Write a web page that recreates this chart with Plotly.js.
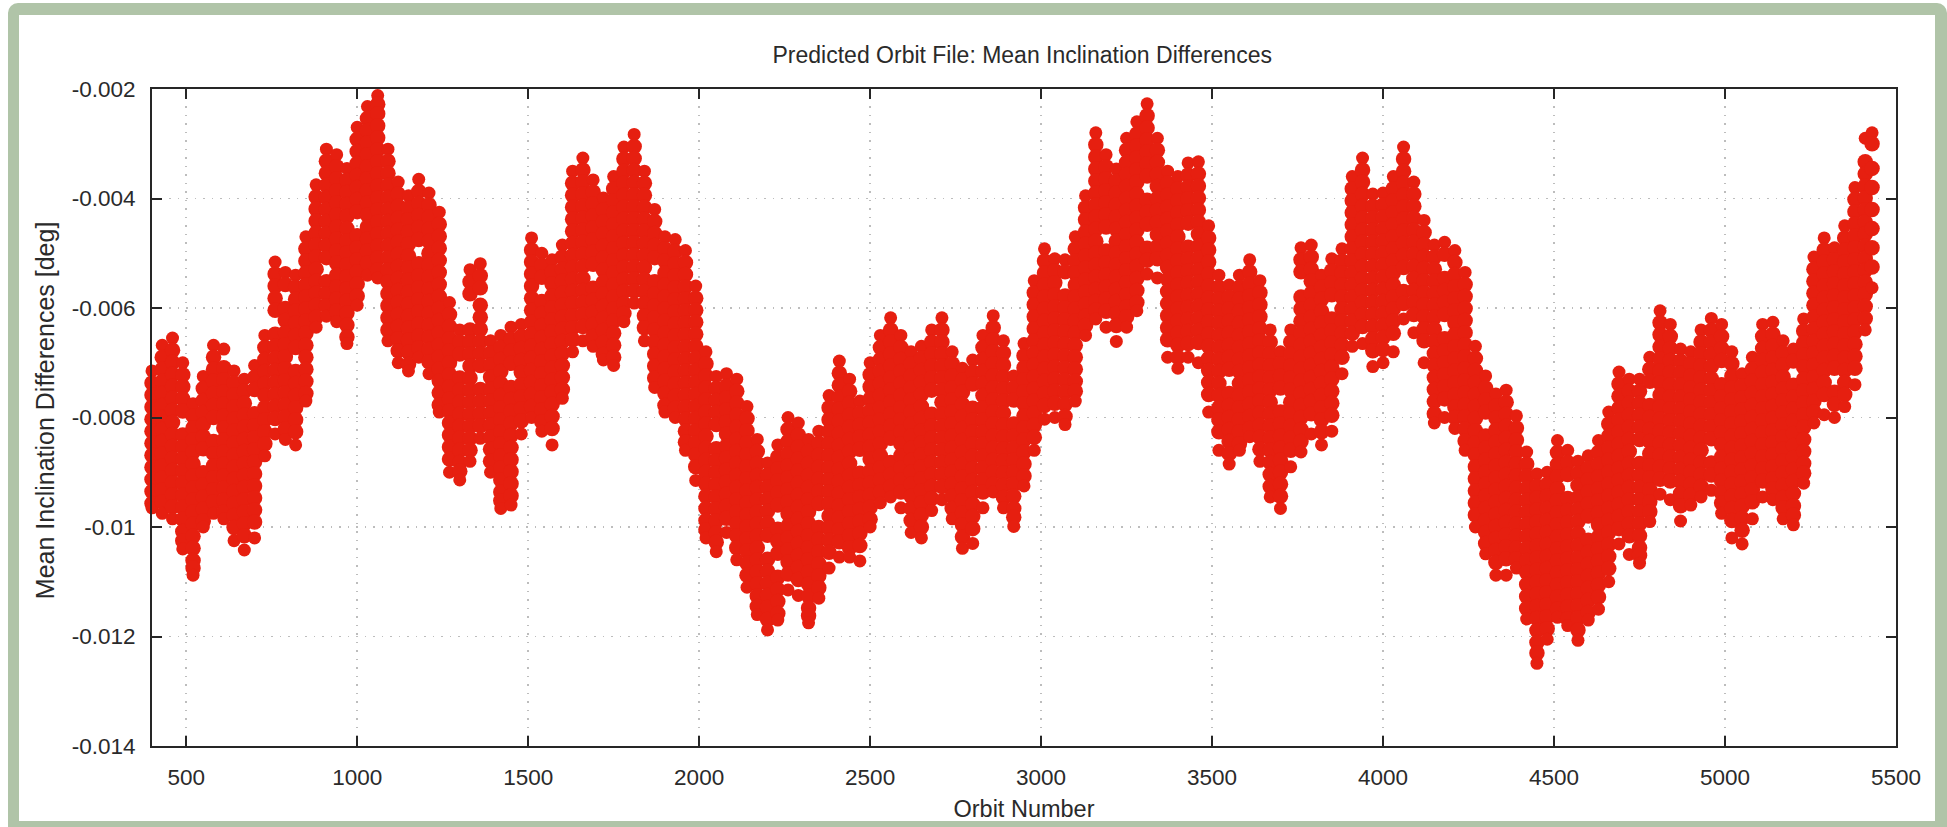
<!DOCTYPE html>
<html><head><meta charset="utf-8">
<script src="https://cdn.plot.ly/plotly-3.0.1.min.js"></script>
<style>
html,body{margin:0;padding:0;background:#fff;width:1947px;height:827px;overflow:hidden}
#frame{position:absolute;left:8px;top:3px;border-style:solid;border-color:#b0c4a8;border-width:12px 12px 6px 11px;border-radius:10px 10px 0 0;width:1916px;height:806px}
#chart{position:absolute;left:0;top:0;width:1947px;height:827px}
</style></head><body>
<div id="frame"></div>
<div id="chart"></div>
<script>
// Each row: orbit number, then inclination differences at that orbit (unit: -1e-5 deg).
const orbits0400 = [
[400,715,737,759,781,803,825,847,869,891,913,935,957,965],
[430,668,690,712,734,756,778,800,822,844,866,888,910,932,954,975],
[460,655,677,699,721,743,765,787,809,831,853,875,897,919,941,963,985],
[490,700,722,744,766,788,832,854,876,898,920,942,964,986,1008,1025,1040],
[520,775,797,819,841,863,885,907,929,951,973,995,1017,1039,1061,1075,1088],
[550,725,747,769,791,813,835,857,901,923,945,967,989,1000],
[580,668,690,712,734,756,778,800,844,866,888,910,932,954,975],
[610,675,709,731,753,775,797,819,841,863,885,907,929,951,973,985],
[640,715,737,759,781,803,825,847,869,891,913,935,957,979,1001,1025],
[670,730,752,774,796,818,840,862,884,906,928,950,972,994,1016,1042],
[700,705,727,749,793,815,837,859,881,903,925,947,969,991,1020],
[730,650,672,694,716,738,760,782,804,826,848,870],
[760,516,538,560,582,604,648,670,692,714,736,758,780,802,830],
[790,535,557,601,623,645,667,689,711,733,755,777,799,821,840],
[820,540,562,584,606,628,650,672,716,738,760,782,804,826,850],
[850,470,492,514,536,558,580,602,624,646,668,690,712,734,756,770],
[880,375,397,419,441,463,485,507,529,551,573,595,617,635],
[910,310,332,354,376,398,420,442,464,486,508,552,574,596,615],
[940,320,342,364,386,408,430,452,474,496,518,540,562,584,606,625],
[970,345,367,389,411,433,455,477,499,521,543,565,587,609,631,653,665],
[1000,270,292,314,336,358,380,402,424,468,490,512,534,556,578,595],
[1030,232,254,276,298,320,342,364,386,408,430,452,474,496,518,540],
[1060,212,228,245,267,289,311,333,355,377,399,421,443,465,487,509,531,545],
[1090,310,332,354,376,398,420,442,464,486,508,530,552,574,596,618,640,660],
[1120,370,392,414,436,458,480,502,524,546,568,590,612,634,656,678,700],
[1150,395,417,439,461,483,505,527,549,571,593,615,637,659,681,703,715],
[1180,365,387,409,431,453,475,519,541,563,585,607,629,651,673,690],
[1210,390,412,434,456,478,500,522,544,566,588,610,632,654,676,698,720],
[1240,425,447,469,491,513,535,557,579,601,623,645,667,689,711,733,755,777,790],
[1270,590,612,634,656,678,700,722,744,766,788,810,832,854,876,900],
[1300,640,662,684,728,750,772,794,816,838,860,882,898,914],
[1330,530,552,574,640,662,684,706,728,750,772,794,816,838,860,880],
[1360,519,541,563,595,617,639,661,683,705,749,771,793,815,838],
[1390,660,682,704,726,748,770,792,814,836,858,880,900]
];
const orbits1420 = [
[1420,650,672,694,716,738,760,782,804,826,848,870,892,914,936,952,966],
[1450,635,657,679,701,745,767,789,811,833,855,877,899,921,943,960],
[1480,630,652,674,696,718,740,762,784,806,830],
[1510,472,494,516,538,560,582,604,626,648,670,692,714,736,758,780,800],
[1540,500,522,544,588,610,632,654,676,698,720,742,764,786,808,825],
[1570,512,534,556,578,600,622,644,666,688,710,732,754,776,798,820,850],
[1600,485,507,529,551,573,595,617,639,661,683,705,727,749,765],
[1630,350,372,394,416,438,460,482,504,526,548,570,592,614,636,658,680],
[1660,326,348,370,392,414,436,458,480,502,524,546,568,590,612,634,660],
[1690,366,388,410,432,454,476,498,520,564,586,608,630,652,670],
[1720,399,421,443,465,487,509,531,553,575,597,619,641,663,685,695],
[1750,360,382,404,426,448,470,492,514,536,558,580,602,624,646,668,690,705],
[1780,306,328,350,372,394,416,438,460,482,504,526,548,570,592,610,625],
[1810,283,305,327,349,371,393,415,437,459,481,503,525,547,569,591],
[1840,350,372,394,416,438,460,482,504,526,548,570,592,614,636,660],
[1870,420,442,464,486,508,552,574,596,618,640,662,684,706,728,745],
[1900,470,492,514,536,558,580,602,624,646,668,690,712,734,756,778,790],
[1930,475,497,519,541,563,585,607,629,651,673,695,717,739,761,783,800],
[1960,495,517,539,561,583,605,627,649,671,693,715,737,759,781,803,825,845,860],
[1990,560,582,604,626,648,670,692,714,736,758,780,802,824,846,868,890,915],
[2020,680,702,724,746,768,790,812,834,856,878,900,922,944,966,988,1005,1020],
[2050,725,747,769,791,813,857,879,901,923,945,967,989,1011,1028,1045],
[2080,720,742,764,786,808,830,852,874,896,918,940,962,984,1010],
[2110,730,752,774,796,818,840,862,884,906,928,950,972,994,1016,1038,1060],
[2140,780,802,824,846,868,890,912,934,956,978,1000,1022,1044,1066,1088,1110],
[2170,840,862,884,906,928,950,972,994,1016,1038,1060,1082,1104,1126,1145,1160],
[2200,883,905,927,949,971,993,1015,1059,1081,1103,1125,1147,1169,1188],
[2230,850,872,894,916,938,960,1004,1026,1048,1092,1114,1136,1158,1170],
[2260,800,822,844,866,888,910,932,954,976,998,1020,1042,1064,1086,1115],
[2290,810,832,854,876,898,920,942,964,986,1008,1030,1052,1074,1096,1125],
[2320,840,862,884,906,928,950,972,994,1016,1038,1060,1082,1104,1126,1148,1162,1175],
[2350,825,847,869,891,913,935,957,1001,1023,1045,1067,1089,1111,1130],
[2380,760,782,804,826,848,870,892,914,936,958,980,1002,1024,1046,1075],
[2410,697,719,741,763,785,807,829,851,873,895,917,939,961,983,1005,1027,1055]
];
const orbits2440 = [
[2440,730,752,774,796,818,840,862,884,906,928,950,972,994,1016,1038,1055],
[2470,770,792,814,836,858,902,924,946,968,990,1012,1034,1062],
[2500,700,722,744,766,788,810,832,854,876,898,920,942,964,986,1000],
[2530,650,672,694,716,738,760,782,804,826,848,870,892,914,936,956],
[2560,618,640,662,684,706,728,750,772,794,816,838,882,904,926,945],
[2590,650,672,694,716,738,760,782,804,826,848,870,892,914,936,965],
[2620,680,702,724,746,768,790,812,834,856,878,900,922,944,966,988,1010],
[2650,670,692,714,736,758,780,802,824,846,868,890,912,934,956,978,1000,1020],
[2680,640,662,684,706,728,750,794,816,838,860,882,904,926,948,970],
[2710,618,640,662,684,706,728,750,772,794,816,838,860,882,904,926,950],
[2740,680,702,724,746,768,790,812,834,856,878,900,922,944,966,985],
[2770,710,732,754,776,798,820,842,864,886,908,930,952,974,996,1018,1039],
[2800,695,717,739,783,805,827,849,871,893,915,937,959,981,1003,1030],
[2830,650,672,694,716,738,760,782,804,826,848,870,892,914,936,965],
[2860,614,636,658,680,702,724,746,768,790,812,834,856,878,900,922,936],
[2890,660,682,704,726,748,770,792,814,836,858,880,902,924,946,965],
[2920,724,746,768,812,834,856,878,900,922,944,966,982,999],
[2950,665,687,709,731,753,775,797,819,841,863,885,907,925],
[2980,550,572,594,616,638,660,682,704,726,748,770,792,814,836,860],
[3010,492,514,536,558,580,602,624,646,668,690,712,734,756,778,803],
[3040,510,532,554,576,598,620,642,664,686,708,730,752,774,800],
[3070,512,534,578,600,622,644,666,688,710,732,754,776,798,813],
[3100,470,492,514,536,558,580,602,624,646,668,690,712,734,752,770],
[3130,395,417,439,461,483,505,527,549,571,593,615,632,650],
[3160,280,302,324,346,368,390,412,434,456,478,500,522,544,566,588,604,620],
[3190,320,342,364,386,408,430,452,496,518,540,562,584,606,635],
[3220,346,368,390,412,434,456,478,500,522,544,566,588,610,632,661],
[3250,290,312,334,356,378,400,422,444,466,488,510,532,554,576,598,616,635],
[3280,260,282,304,326,348,370,392,414,436,458,480,502,524,546,568,590,605],
[3310,227,249,271,293,315,337,359,403,425,447,491,513,538],
[3340,290,312,334,356,378,400,422,444,466,488,510,545],
[3370,350,372,394,416,438,460,482,504,526,548,570,592,614,636,658,690],
[3400,360,382,404,426,448,470,492,514,536,558,580,602,624,646,668,690,710],
[3430,335,357,379,401,423,445,489,511,533,555,577,599,621,643,665,690]
];
const orbits3460 = [
[3460,333,355,377,399,421,443,465,487,509,531,553,575,597,619,641,663,700],
[3490,450,472,494,516,538,560,582,604,626,648,670,692,714,736,758,790],
[3520,540,562,584,606,628,650,672,694,716,738,760,782,804,826,860],
[3550,558,580,602,624,646,668,690,712,756,778,800,822,844,866,885],
[3580,540,562,584,606,628,650,672,694,716,738,760,782,804,826,848,860],
[3610,512,534,556,578,600,622,644,666,688,710,732,754,776,798,820,835],
[3640,550,572,594,616,638,660,682,704,726,748,770,792,814,836,858,880],
[3670,640,662,684,706,728,750,772,794,816,838,860,882,904,926,945],
[3700,680,702,724,746,790,812,834,856,878,900,922,944,966],
[3730,640,662,684,706,728,750,772,794,816,838,860,890],
[3760,490,512,534,580,602,624,646,668,690,712,734,756,778,800,822,844,863],
[3790,485,507,529,551,573,595,617,639,661,683,705,727,749,771,793,830],
[3820,540,562,584,606,628,650,672,694,716,738,760,782,804,826,850],
[3850,510,532,554,576,620,642,664,686,708,730,752,774,796,825],
[3880,492,514,536,558,580,602,624,646,668,690,720],
[3910,360,382,404,426,448,470,492,514,536,558,580,602,624,646,670],
[3940,326,348,370,392,414,436,458,480,502,524,546,568,590,612,634,665],
[3970,392,414,436,458,480,502,524,546,568,590,612,634,656,678,707],
[4000,390,412,434,456,478,500,522,544,566,588,610,632,654,676,700],
[4030,360,382,404,426,448,470,492,514,536,558,580,602,624,646,680],
[4060,306,328,350,372,394,416,438,460,482,504,526,570,592,620],
[4090,370,392,414,436,458,480,502,524,546,568,590,612,645],
[4120,440,462,484,506,528,550,572,594,616,638,660,700],
[4150,485,507,529,551,573,595,617,639,661,683,705,727,749,771,793,810],
[4180,480,502,546,568,590,612,656,678,700,722,744,766,800],
[4210,495,517,539,561,583,605,627,649,671,693,715,737,759,781,800,820],
[4240,535,557,579,601,623,645,667,689,711,733,755,777,799,821,843,860],
[4270,670,692,714,736,758,780,802,824,846,868,890,912,934,956,978,1000],
[4300,724,746,768,790,834,856,878,900,922,944,966,988,1010,1030,1049],
[4330,757,779,801,823,845,867,889,911,933,955,977,999,1021,1043,1065,1088],
[4360,750,772,794,816,838,860,882,904,926,948,970,992,1014,1036,1058,1088],
[4390,797,819,841,863,885,907,929,951,973,995,1017,1039,1058,1075],
[4420,863,885,907,929,951,973,995,1017,1039,1061,1083,1105,1127,1149,1168]
];
const orbits4450 = [
[4450,903,925,947,969,991,1013,1035,1057,1079,1101,1123,1145,1167,1189,1211,1230,1249],
[4480,900,922,944,966,988,1010,1032,1054,1076,1098,1120,1142,1164,1186,1205],
[4510,842,864,886,908,930,952,974,996,1018,1040,1062,1084,1106,1128,1150,1165],
[4540,860,882,904,948,970,992,1014,1036,1058,1080,1102,1124,1146,1168,1180],
[4570,880,902,924,946,968,990,1012,1034,1056,1078,1100,1122,1144,1166,1188,1207],
[4600,870,892,914,936,958,980,1024,1046,1068,1090,1112,1134,1156,1170],
[4630,842,864,886,908,930,952,974,996,1018,1040,1062,1084,1106,1128,1150],
[4660,790,812,834,856,878,900,922,944,966,988,1010,1032,1054,1076,1100],
[4690,717,739,761,783,805,827,849,871,893,915,937,959,981,1003,1031],
[4720,730,752,774,796,818,840,862,884,906,928,950,972,994,1016,1050],
[4750,730,752,774,796,818,840,884,906,928,950,972,994,1016,1038,1052,1066],
[4780,690,712,734,778,800,822,844,866,888,910,932,954,972,990],
[4810,605,627,649,671,693,715,737,759,781,803,825,847,869,891,913,940],
[4840,630,652,674,696,718,740,762,784,806,828,850,872,894,916,950],
[4870,675,697,719,741,763,785,807,829,851,873,895,917,939,961,989],
[4900,680,702,724,746,768,790,812,834,856,878,900,922,942,960],
[4930,640,662,684,706,728,750,772,794,816,838,860,882,904,926,945],
[4960,619,641,663,685,707,729,751,773,795,817,839,883,905,933],
[4990,630,652,674,696,740,762,784,806,828,850,872,894,916,938,956,975],
[5020,680,702,724,746,768,790,812,834,856,878,900,922,944,966,988,1020],
[5050,720,742,764,786,808,830,852,874,896,918,940,962,984,1006,1031],
[5080,690,712,734,756,778,800,822,844,866,888,910,932,954,985],
[5110,630,652,674,696,718,740,762,784,806,828,850,872,894,916,945],
[5140,626,648,670,692,714,736,758,780,802,824,846,868,890,912,930,950],
[5170,660,682,704,726,748,770,792,814,836,858,880,902,924,946,965,985],
[5200,675,697,741,763,785,807,829,851,873,895,917,939,961,978,996],
[5230,620,642,664,686,708,730,752,774,796,818,840,862,884,902,920],
[5260,507,529,551,573,595,617,639,661,683,705,727,749,771,790,810],
[5290,472,494,516,538,560,582,604,626,648,670,692,714,736,758,795],
[5320,490,512,534,556,578,600,622,644,666,688,710,754,776,800],
[5350,450,472,494,516,538,560,582,604,626,648,670,692,714,736,758,780],
[5380,380,402,424,446,468,490,512,534,556,578,600,622,644,666,688,710,740],
[5410,290,333,355,377,399,421,443,465,487,509,531,553,575,597,619,640],
[5430,280,300,345,380,420,455,490,525,563]
];
const xTickValues = [500,1000,1500,2000,2500,3000,3500,4000,4500,5000,5500];
const yTickValues = [-0.002,-0.004,-0.006,-0.008,-0.01,-0.012,-0.014];
const yTickLabels = ['-0.002','-0.004','-0.006','-0.008','-0.01','-0.012','-0.014'];

const x=[], y=[], sizes=[];
[orbits0400,orbits1420,orbits2440,orbits3460,orbits4450].forEach(block=>{
  block.forEach(row=>{
    for(let i=1;i<row.length;i++){
      x.push(row[0]); y.push(-row[i]/1e5);
      sizes.push(i===1||i===row.length-1?13:15.5);
    }
  });
});
const font='"Liberation Sans", Arial, sans-serif';
const ink='#2a2a2a';
const axisBase={showline:true,mirror:'allticks',linecolor:'#262626',linewidth:2,ticks:'inside',ticklen:10,tickwidth:2,tickcolor:'#262626',
  showgrid:true,gridcolor:'#bdbdbd',gridwidth:1.5,griddash:'1.5px,7px',zeroline:false,tickfont:{family:font,size:22.5,color:ink},layer:'above traces'};
Plotly.newPlot('chart',[{type:'scatter',mode:'markers',x:x,y:y,cliponaxis:false,
  marker:{color:'#e61f10',size:sizes,opacity:1,line:{width:0}},hoverinfo:'skip'}],{
  width:1947,height:827,showlegend:false,
  paper_bgcolor:'rgba(0,0,0,0)',plot_bgcolor:'rgba(0,0,0,0)',
  margin:{l:152,r:51,t:89,b:81,pad:0},
  title:{text:'Predicted Orbit File: Mean Inclination Differences',font:{family:font,size:23,color:ink},x:0.499,xref:'paper',xanchor:'center',y:0.934,yanchor:'middle'},
  xaxis:Object.assign({},axisBase,{range:[400,5500],tickmode:'array',tickvals:xTickValues,ticktext:xTickValues.map(String),ticklabelstandoff:10,
    title:{text:'Orbit Number',font:{family:font,size:23.5,color:ink},standoff:12}}),
  yaxis:Object.assign({},axisBase,{range:[-0.014,-0.002],tickmode:'array',tickvals:yTickValues,ticktext:yTickLabels,ticklabelstandoff:10}),
  annotations:[{text:'Mean Inclination Differences [deg]',font:{family:font,size:25,color:ink},textangle:-90,showarrow:false,
    xref:'paper',yref:'paper',x:-0.0614,y:0.511,xanchor:'center',yanchor:'middle'}]
},{displayModeBar:false,staticPlot:true});
</script>
</body></html>
